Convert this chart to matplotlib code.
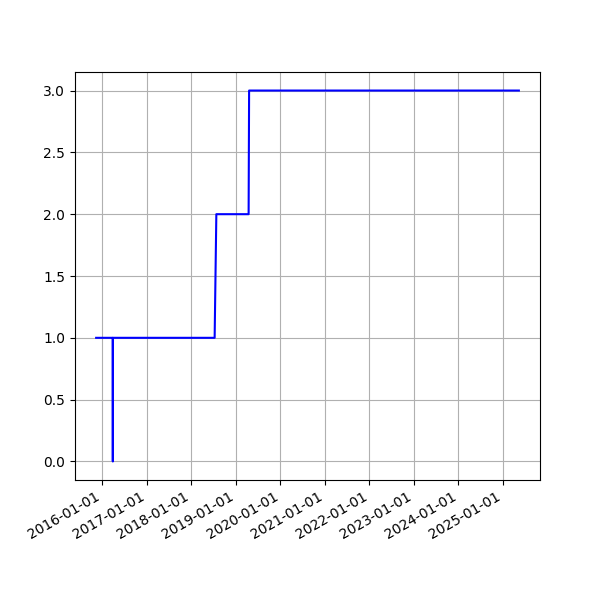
import numpy as np
import pandas as pd
import matplotlib
matplotlib.use('Agg')
import matplotlib.pyplot as plt
import matplotlib.dates as mdates

# Dates and step values
dates = pd.to_datetime([
    '2015-11-10', '2016-03-25', '2016-03-26', '2016-03-27',
    '2018-07-10', '2018-07-24', '2019-04-15', '2019-04-19', '2025-05-12',
])
values = [1, 1, 0, 1, 1, 2, 2, 3, 3]

fig, ax = plt.subplots(figsize=(6, 6), dpi=100)
ax.plot(dates, values, color='blue')

ax.xaxis.set_major_locator(mdates.YearLocator())
ax.xaxis.set_major_formatter(mdates.DateFormatter('%Y-%m-%d'))
ax.grid(True)
fig.autofmt_xdate()

fig.savefig('out.png', dpi=100)
